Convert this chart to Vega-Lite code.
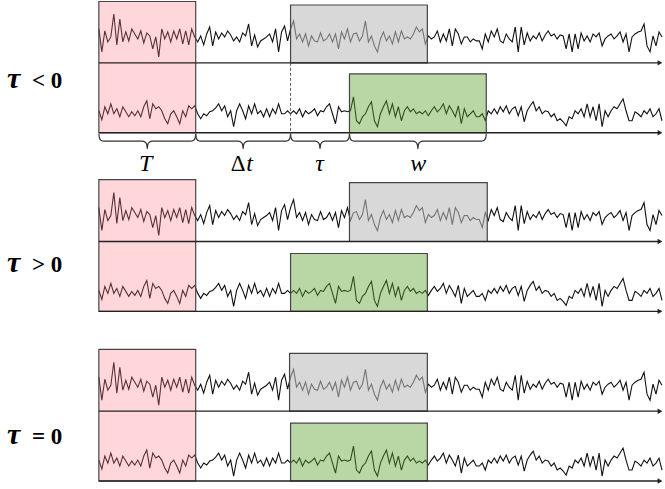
{
"$schema":"https://vega.github.io/schema/vega-lite/v6.json",
"width":665,"height":489,
"autosize":{"type":"fit","contains":"padding"},
"padding":0,
"background":"white",
"config":{"view":{"stroke":null}},
"datasets":{
"top":[{"t":99,"v":10},{"t":102,"v":-13},{"t":105,"v":8},{"t":108,"v":-3},{"t":111,"v":2},{"t":114,"v":25},{"t":117,"v":-6},{"t":120,"v":20},{"t":123,"v":-3},{"t":126,"v":7},{"t":129,"v":-2},{"t":132,"v":10},{"t":135,"v":5},{"t":138,"v":0},{"t":141,"v":8},{"t":144,"v":-4},{"t":147,"v":6},{"t":150,"v":3},{"t":153,"v":-10},{"t":156,"v":2},{"t":159,"v":-18},{"t":162,"v":10},{"t":165,"v":0},{"t":168,"v":7},{"t":171,"v":-3},{"t":174,"v":8},{"t":177,"v":0},{"t":180,"v":10},{"t":183,"v":-5},{"t":186,"v":8},{"t":189,"v":-6},{"t":192,"v":10},{"t":195,"v":2},
{"t":198,"v":-3},{"t":201,"v":3},{"t":204,"v":-6},{"t":207,"v":5},{"t":210,"v":12},{"t":213,"v":-7},{"t":216,"v":7},{"t":219,"v":0},{"t":222,"v":6},{"t":225,"v":2},{"t":228,"v":8},{"t":231,"v":4},{"t":234,"v":-2},{"t":237,"v":2},{"t":240,"v":-3},{"t":243,"v":6},{"t":246,"v":3},{"t":249,"v":15},{"t":252,"v":-7},{"t":255,"v":4},{"t":258,"v":-8},{"t":261,"v":-2},{"t":264,"v":0},{"t":267,"v":2},{"t":270,"v":5},{"t":273,"v":-3},{"t":276,"v":10},{"t":279,"v":-13},{"t":282,"v":7},{"t":285,"v":13},{"t":288,"v":-2},
{"t":291,"v":10},{"t":294,"v":18},{"t":297,"v":0},{"t":300,"v":5},{"t":303,"v":-3},{"t":306,"v":5},{"t":309,"v":-7},{"t":312,"v":3},{"t":315,"v":-2},{"t":318,"v":-3},{"t":321,"v":6},{"t":324,"v":-2},{"t":327,"v":0},{"t":330,"v":5},{"t":333,"v":-3},{"t":336,"v":5},{"t":339,"v":-10},{"t":342,"v":7},{"t":345,"v":0},{"t":348,"v":10},{"t":351,"v":-3},{"t":354,"v":5},{"t":357,"v":6},{"t":360,"v":-2},{"t":363,"v":3},{"t":366,"v":18},{"t":369,"v":-3},{"t":372,"v":3},{"t":375,"v":-7},{"t":378,"v":-13},{"t":381,"v":0},{"t":384,"v":7},{"t":387,"v":-2},{"t":390,"v":3},{"t":393,"v":-5},{"t":396,"v":7},{"t":399,"v":-3},{"t":402,"v":8},{"t":405,"v":0},{"t":408,"v":2},{"t":411,"v":0},{"t":414,"v":5},{"t":417,"v":12},{"t":420,"v":7},{"t":423,"v":10},{"t":426,"v":-5},
{"t":429,"v":3},{"t":432,"v":0},{"t":435,"v":2},{"t":438,"v":8},{"t":441,"v":-3},{"t":444,"v":5},{"t":447,"v":-2},{"t":450,"v":10},{"t":453,"v":-7},{"t":456,"v":10},{"t":459,"v":5},{"t":462,"v":-5},{"t":465,"v":2},{"t":468,"v":2},{"t":471,"v":-3},{"t":474,"v":0},{"t":477,"v":-2},
{"t":480,"v":-2},{"t":483,"v":-10},{"t":486,"v":5},{"t":489,"v":-3},{"t":492,"v":8},{"t":495,"v":2},{"t":498,"v":10},{"t":501,"v":-2},{"t":504,"v":-4},{"t":507,"v":5},{"t":510,"v":0},{"t":513,"v":-3},{"t":516,"v":12},{"t":519,"v":-13},{"t":522,"v":12},{"t":525,"v":-6},{"t":528,"v":6},{"t":531,"v":-2},{"t":534,"v":3},{"t":537,"v":0},{"t":540,"v":6},{"t":543,"v":-2},{"t":546,"v":4},{"t":549,"v":8},{"t":552,"v":3},{"t":555,"v":5},{"t":558,"v":0},{"t":561,"v":4},{"t":564,"v":3},{"t":567,"v":-10},{"t":570,"v":5},{"t":573,"v":-13},{"t":576,"v":5},{"t":579,"v":-10},{"t":582,"v":6},{"t":585,"v":-2},{"t":588,"v":3},{"t":591,"v":-3},{"t":594,"v":5},{"t":597,"v":2},{"t":600,"v":6},{"t":603,"v":-7},{"t":606,"v":0},{"t":609,"v":3},{"t":612,"v":5},{"t":615,"v":0},{"t":618,"v":3},{"t":621,"v":7},{"t":624,"v":-3},{"t":627,"v":5},{"t":630,"v":-13},{"t":633,"v":2},{"t":636,"v":5},{"t":639,"v":7},{"t":642,"v":8},{"t":645,"v":15},{"t":648,"v":-7},{"t":651,"v":-13},{"t":654,"v":3},{"t":657,"v":-7},{"t":660,"v":7},{"t":663,"v":2}],
"bot":[{"t":99,"v":3},{"t":102,"v":-6},{"t":105,"v":7},{"t":108,"v":0},{"t":111,"v":10},{"t":114,"v":0},{"t":117,"v":5},{"t":120,"v":-3},{"t":123,"v":7},{"t":126,"v":2},{"t":129,"v":-3},{"t":132,"v":2},{"t":135,"v":-2},{"t":138,"v":3},{"t":141,"v":-3},{"t":144,"v":7},{"t":147,"v":13},{"t":150,"v":-5},{"t":153,"v":10},{"t":156,"v":5},{"t":159,"v":7},{"t":162,"v":3},{"t":165,"v":-5},{"t":168,"v":-10},{"t":171,"v":0},{"t":174,"v":3},{"t":177,"v":-3},{"t":180,"v":-10},{"t":183,"v":3},{"t":186,"v":-3},{"t":189,"v":8},{"t":192,"v":5},{"t":195,"v":8},
{"t":198,"v":0},{"t":201,"v":-5},{"t":204,"v":0},{"t":207,"v":-2},{"t":210,"v":2},{"t":213,"v":3},{"t":216,"v":6},{"t":219,"v":10},{"t":222,"v":3},{"t":225,"v":8},{"t":228,"v":-3},{"t":231,"v":3},{"t":234,"v":-13},{"t":237,"v":3},{"t":240,"v":10},{"t":243,"v":3},{"t":246,"v":-5},{"t":249,"v":8},{"t":252,"v":0},{"t":255,"v":10},{"t":258,"v":0},{"t":261,"v":3},{"t":264,"v":-3},{"t":267,"v":5},{"t":270,"v":-3},{"t":273,"v":5},{"t":276,"v":0},{"t":279,"v":10},{"t":282,"v":0},{"t":285,"v":0},{"t":288,"v":3},
{"t":291,"v":0},{"t":294,"v":3},{"t":297,"v":0},{"t":300,"v":5},{"t":303,"v":-3},{"t":306,"v":3},{"t":309,"v":0},{"t":312,"v":2},{"t":315,"v":5},{"t":318,"v":-2},{"t":321,"v":3},{"t":324,"v":2},{"t":327,"v":7},{"t":330,"v":10},{"t":333,"v":0},{"t":336,"v":-10},{"t":339,"v":7},{"t":342,"v":2},{"t":345,"v":3},{"t":348,"v":2},{"t":351,"v":3},{"t":354,"v":17},{"t":357,"v":-7},{"t":360,"v":-10},{"t":363,"v":-3},{"t":366,"v":0},{"t":369,"v":7},{"t":372,"v":12},{"t":375,"v":-7},{"t":378,"v":-13},{"t":381,"v":0},{"t":384,"v":7},{"t":387,"v":13},{"t":390,"v":0},{"t":393,"v":10},{"t":396,"v":-3},{"t":399,"v":7},{"t":402,"v":-7},{"t":405,"v":3},{"t":408,"v":7},{"t":411,"v":2},{"t":414,"v":5},{"t":417,"v":0},{"t":420,"v":2},{"t":423,"v":0},{"t":426,"v":3},{"t":429,"v":-2},{"t":432,"v":3},{"t":435,"v":7},{"t":438,"v":2},{"t":441,"v":5},{"t":444,"v":10},{"t":447,"v":0},{"t":450,"v":8},{"t":453,"v":3},{"t":456,"v":-3},{"t":459,"v":8},{"t":462,"v":-10},{"t":465,"v":5},{"t":468,"v":-3},{"t":471,"v":0},{"t":474,"v":3},{"t":477,"v":-3},
{"t":480,"v":-3},{"t":483,"v":0},{"t":486,"v":-7},{"t":489,"v":3},{"t":492,"v":0},{"t":495,"v":5},{"t":498,"v":0},{"t":501,"v":7},{"t":504,"v":2},{"t":507,"v":8},{"t":510,"v":0},{"t":513,"v":5},{"t":516,"v":7},{"t":519,"v":-2},{"t":522,"v":7},{"t":525,"v":-8},{"t":528,"v":3},{"t":531,"v":8},{"t":534,"v":12},{"t":537,"v":3},{"t":540,"v":7},{"t":543,"v":0},{"t":546,"v":3},{"t":549,"v":2},{"t":552,"v":-3},{"t":555,"v":0},{"t":558,"v":-7},{"t":561,"v":-5},{"t":564,"v":-8},{"t":567,"v":-12},{"t":570,"v":-3},{"t":573,"v":-5},{"t":576,"v":3},{"t":579,"v":0},{"t":582,"v":5},{"t":585,"v":-3},{"t":588,"v":10},{"t":591,"v":-3},{"t":594,"v":7},{"t":597,"v":-7},{"t":600,"v":10},{"t":603,"v":-13},{"t":606,"v":3},{"t":609,"v":-3},{"t":612,"v":3},{"t":615,"v":7},{"t":618,"v":5},{"t":621,"v":10},{"t":624,"v":15},{"t":627,"v":3},{"t":630,"v":-7},{"t":633,"v":-7},{"t":636,"v":2},{"t":639,"v":0},{"t":642,"v":-3},{"t":645,"v":3},{"t":648,"v":0},{"t":651,"v":5},{"t":654,"v":-3},{"t":657,"v":0},{"t":660,"v":5},{"t":663,"v":-7}],
"boxes":[
{"g":1,"kind":"T","t":99,"t2":196,"y":0.5,"y2":132},
{"g":1,"kind":"ref","t":291,"t2":428,"y":4,"y2":62},
{"g":1,"kind":"win","t":350,"t2":487,"y":73,"y2":132},
{"g":2,"kind":"T","t":99,"t2":196,"y":179,"y2":311},
{"g":2,"kind":"ref","t":350,"t2":488,"y":182,"y2":241},
{"g":2,"kind":"win","t":291,"t2":428,"y":253,"y2":311},
{"g":3,"kind":"T","t":99,"t2":196,"y":349,"y2":481},
{"g":3,"kind":"ref","t":290,"t2":428,"y":353,"y2":411},
{"g":3,"kind":"win","t":291,"t2":428,"y":423,"y2":481}],
"axes":[{"t":99,"t2":661,"y":62},{"t":99,"t2":661,"y":132},{"t":99,"t2":661,"y":241},{"t":99,"t2":661,"y":311},{"t":99,"t2":661,"y":411},{"t":99,"t2":661,"y":481}],
"brace":[
{"b":"T","t":99,"y":133},{"b":"T","t":99.5,"y":137},{"b":"T","t":101,"y":139.5},{"b":"T","t":104,"y":140.5},{"b":"T","t":142.5,"y":140.5},{"b":"T","t":145.5,"y":141.5},{"b":"T","t":147,"y":144},{"b":"T","t":147.5,"y":148},{"b":"T","t":148,"y":144},{"b":"T","t":149.5,"y":141.5},{"b":"T","t":152.5,"y":140.5},{"b":"T","t":191,"y":140.5},{"b":"T","t":194,"y":139.5},{"b":"T","t":195.5,"y":137},{"b":"T","t":196,"y":133},
{"b":"dt","t":196,"y":133},{"b":"dt","t":196.5,"y":137},{"b":"dt","t":198,"y":139.5},{"b":"dt","t":201,"y":140.5},{"b":"dt","t":238.5,"y":140.5},{"b":"dt","t":241.5,"y":141.5},{"b":"dt","t":243,"y":144},{"b":"dt","t":243.5,"y":148},{"b":"dt","t":244,"y":144},{"b":"dt","t":245.5,"y":141.5},{"b":"dt","t":248.5,"y":140.5},{"b":"dt","t":286,"y":140.5},{"b":"dt","t":289,"y":139.5},{"b":"dt","t":290.5,"y":137},{"b":"dt","t":291,"y":133},
{"b":"tau","t":291,"y":133},{"b":"tau","t":291.5,"y":137},{"b":"tau","t":293,"y":139.5},{"b":"tau","t":296,"y":140.5},{"b":"tau","t":315.5,"y":140.5},{"b":"tau","t":318.5,"y":141.5},{"b":"tau","t":320,"y":144},{"b":"tau","t":320.5,"y":148},{"b":"tau","t":321,"y":144},{"b":"tau","t":322.5,"y":141.5},{"b":"tau","t":325.5,"y":140.5},{"b":"tau","t":345,"y":140.5},{"b":"tau","t":348,"y":139.5},{"b":"tau","t":349.5,"y":137},{"b":"tau","t":350,"y":133},
{"b":"w","t":350,"y":133},{"b":"w","t":350.5,"y":137},{"b":"w","t":352,"y":139.5},{"b":"w","t":355,"y":140.5},{"b":"w","t":413.5,"y":140.5},{"b":"w","t":416.5,"y":141.5},{"b":"w","t":418,"y":144},{"b":"w","t":418.5,"y":148},{"b":"w","t":419,"y":144},{"b":"w","t":420.5,"y":141.5},{"b":"w","t":423.5,"y":140.5},{"b":"w","t":482,"y":140.5},{"b":"w","t":485,"y":139.5},{"b":"w","t":486.5,"y":137},{"b":"w","t":487,"y":133}],
"blabels":[{"t":146,"y":170,"s":"T"},{"t":250,"y":170,"s":"t"},{"t":320,"y":170,"s":"τ"},{"t":419,"y":170,"s":"w"}],
"ulabels":[{"t":238.5,"y":170,"s":"Δ"}],
"glabels":[{"t":7,"t2":32,"y":87,"a":"τ","b":"< 0"},{"t":7,"t2":32,"y":272,"a":"τ","b":"> 0"},{"t":7,"t2":32,"y":444,"a":"τ","b":"= 0"}]
},
"encoding":{"x":{"field":"t","type":"quantitative","scale":{"domain":[0,665],"nice":false,"zero":false},"axis":null}},
"layer":[
{"data":{"name":"top"},"mark":{"type":"line","color":"#111","strokeWidth":1.1},"encoding":{"y":{"field":"v","type":"quantitative","scale":{"domain":[-451,38],"nice":false,"zero":false},"axis":null}}},
{"data":{"name":"bot"},"mark":{"type":"line","color":"#111","strokeWidth":1.1},"encoding":{"y":{"field":"v","type":"quantitative","scale":{"domain":[-376,113],"nice":false,"zero":false},"axis":null}}},
{"data":{"name":"top"},"mark":{"type":"line","color":"#111","strokeWidth":1.1},"encoding":{"y":{"field":"v","type":"quantitative","scale":{"domain":[-272,217],"nice":false,"zero":false},"axis":null}}},
{"data":{"name":"bot"},"mark":{"type":"line","color":"#111","strokeWidth":1.1},"encoding":{"y":{"field":"v","type":"quantitative","scale":{"domain":[-196,293],"nice":false,"zero":false},"axis":null}}},
{"data":{"name":"top"},"mark":{"type":"line","color":"#111","strokeWidth":1.1},"encoding":{"y":{"field":"v","type":"quantitative","scale":{"domain":[-102,387],"nice":false,"zero":false},"axis":null}}},
{"data":{"name":"bot"},"mark":{"type":"line","color":"#111","strokeWidth":1.1},"encoding":{"y":{"field":"v","type":"quantitative","scale":{"domain":[-26,463],"nice":false,"zero":false},"axis":null}}},
{"data":{"name":"boxes"},"mark":{"type":"rect","stroke":"#454545","strokeWidth":1.2},"encoding":{"x2":{"field":"t2"},"y":{"field":"y","type":"quantitative","scale":{"domain":[489,0],"nice":false,"zero":false},"axis":null},"y2":{"field":"y2"},"fill":{"field":"kind","type":"nominal","scale":{"domain":["T","ref","win"],"range":["rgba(255,122,132,0.3)","rgba(188,188,190,0.58)","rgba(93,163,47,0.43)"]},"legend":null}}},
{"data":{"name":"axes"},"mark":{"type":"rule","color":"#222","strokeWidth":1.3},"encoding":{"x2":{"field":"t2"},"y":{"field":"y","type":"quantitative","scale":{"domain":[489,0],"nice":false,"zero":false},"axis":null}}},
{"data":{"name":"axes"},"mark":{"type":"point","shape":"triangle-right","filled":true,"size":30,"color":"#222","opacity":1},"encoding":{"x":{"field":"t2","type":"quantitative","scale":{"domain":[0,665],"nice":false,"zero":false},"axis":null},"y":{"field":"y","type":"quantitative","scale":{"domain":[489,0],"nice":false,"zero":false},"axis":null}}},
{"data":{"values":[{"t":291,"y":62,"y2":132}]},"mark":{"type":"rule","color":"#333","strokeWidth":0.8,"strokeDash":[3,2]},"encoding":{"y":{"field":"y","type":"quantitative","scale":{"domain":[489,0],"nice":false,"zero":false},"axis":null},"y2":{"field":"y2"}}},
{"data":{"name":"brace"},"mark":{"type":"line","color":"#333","strokeWidth":1.2,"interpolate":"monotone"},"encoding":{"detail":{"field":"b"},"y":{"field":"y","type":"quantitative","scale":{"domain":[489,0],"nice":false,"zero":false},"axis":null}}},
{"data":{"name":"blabels"},"mark":{"type":"text","font":"Liberation Serif","fontStyle":"italic","fontSize":24,"align":"center","baseline":"alphabetic","color":"#000"},"encoding":{"text":{"field":"s"},"y":{"field":"y","type":"quantitative","scale":{"domain":[489,0],"nice":false,"zero":false},"axis":null}}},
{"data":{"name":"ulabels"},"mark":{"type":"text","font":"Liberation Serif","fontSize":23,"align":"center","baseline":"alphabetic","color":"#000"},"encoding":{"text":{"field":"s"},"y":{"field":"y","type":"quantitative","scale":{"domain":[489,0],"nice":false,"zero":false},"axis":null}}},
{"data":{"name":"glabels"},"mark":{"type":"text","font":"Liberation Serif","fontStyle":"italic","fontWeight":"bold","fontSize":30,"align":"left","baseline":"alphabetic","color":"#000"},"encoding":{"text":{"field":"a"},"y":{"field":"y","type":"quantitative","scale":{"domain":[489,0],"nice":false,"zero":false},"axis":null}}},
{"data":{"name":"glabels"},"mark":{"type":"text","font":"Liberation Serif","fontWeight":"bold","fontSize":23,"align":"left","baseline":"alphabetic","color":"#000"},"encoding":{"text":{"field":"b"},"x":{"field":"t2","type":"quantitative","scale":{"domain":[0,665],"nice":false,"zero":false},"axis":null},"y":{"field":"y","type":"quantitative","scale":{"domain":[489,0],"nice":false,"zero":false},"axis":null}}}
],
"resolve":{"scale":{"y":"independent"}}
}
